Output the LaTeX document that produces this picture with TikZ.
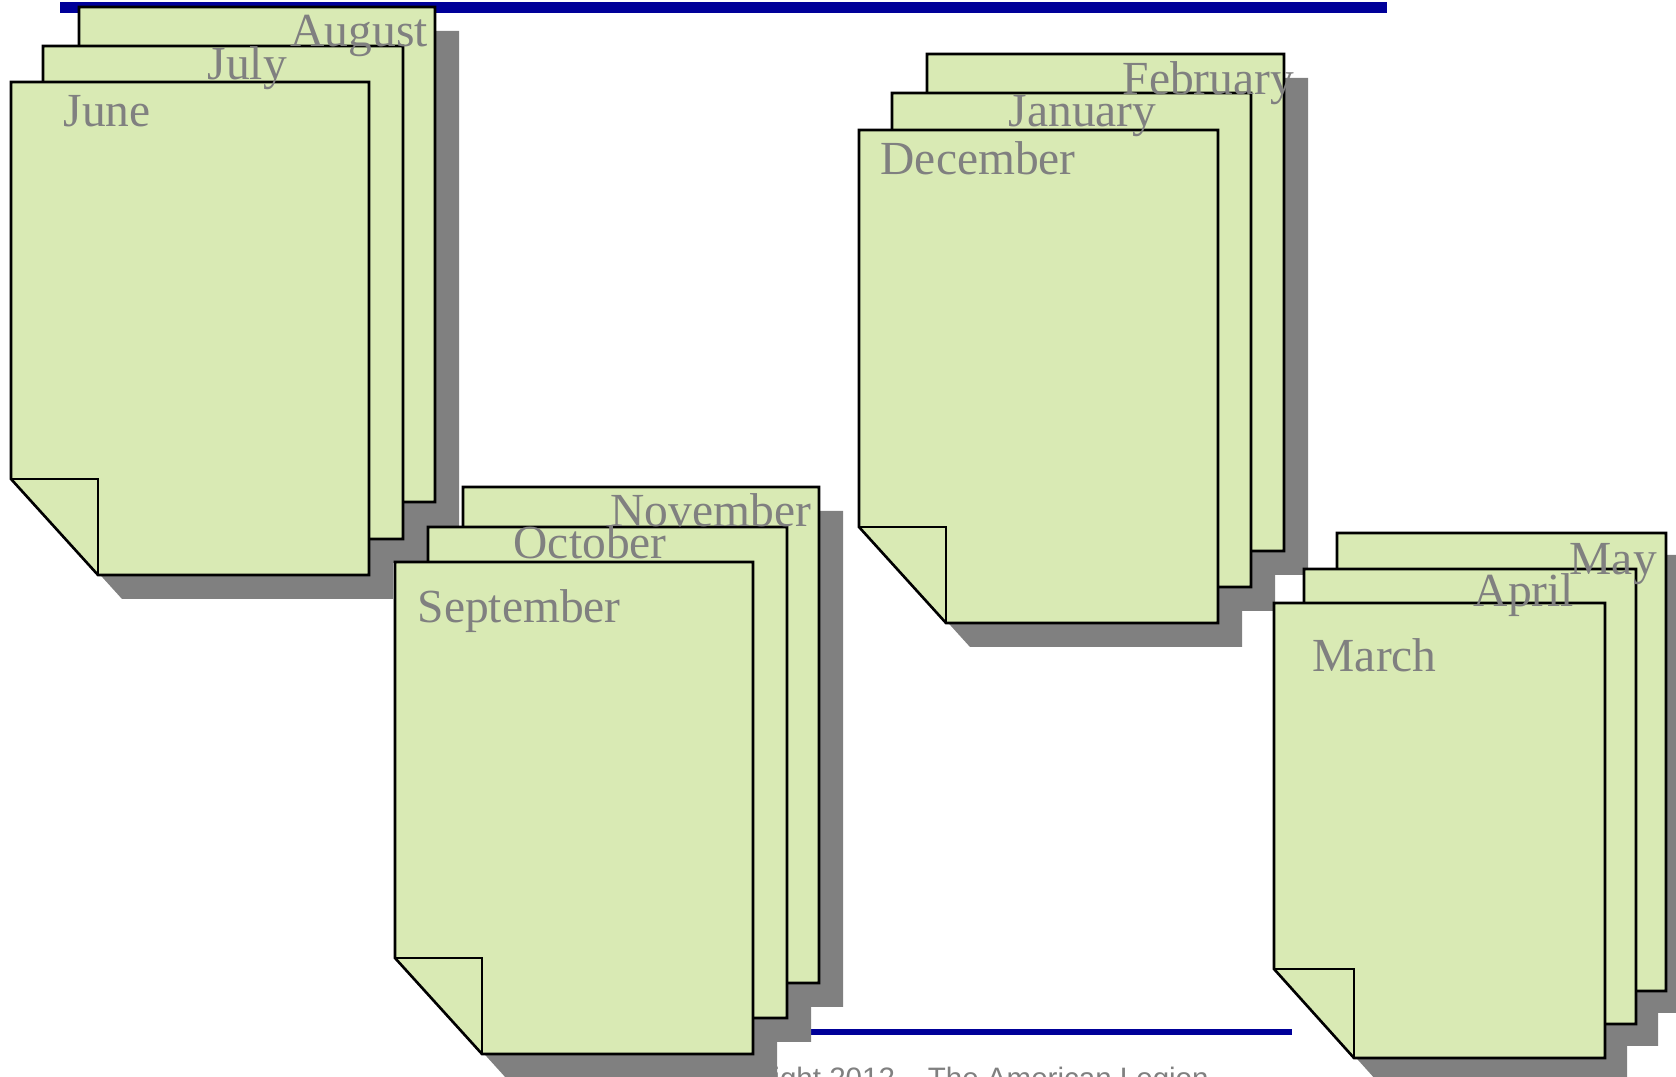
\documentclass[tikz,border=0pt]{standalone}
\usepackage{fontspec}
\setmainfont{Liberation Serif}
\newfontfamily\arialfont{Liberation Sans}
\definecolor{pagefill}{HTML}{D9EAB4}
\definecolor{shadowgray}{HTML}{808080}
\definecolor{labelgray}{HTML}{808080}
\definecolor{ruleblue}{HTML}{000099}
% outline of a sheet with its lower left corner folded in
\newcommand\sheetpath[6]{(#1,#2) -- (#3,#2) -- (#3,#4) -- ({#1+#5},#4) -- (#1,{#4-#6}) -- cycle}
\newcommand\foldpath[6]{(#1,{#4-#6}) -- ({#1+#5},{#4-#6}) -- ({#1+#5},#4)}
\begin{document}
\begin{tikzpicture}[x=0.01cm,y=-0.01cm,
  sheet/.style={fill=pagefill,draw=black,line width=0.75pt,line join=miter},
  foldline/.style={draw=black,line width=0.75pt},
  shade/.style={fill=shadowgray},
  month/.style={inner sep=0pt,anchor=base west,text=labelgray,font=\fontsize{13.5}{16}\selectfont},
  rulebar/.style={fill=ruleblue}]
\useasboundingbox (0,0) rectangle (1676,1077);
\clip (0,0) rectangle (1676,1077);
% rules and footer
\fill[rulebar] (60,2) rectangle (1387,13);
\fill[rulebar] (760,1029) rectangle (1292,1035);
\node[inner sep=0pt,anchor=base west,text=labelgray,font=\arialfont\fontsize{8.4}{10}\selectfont] (copy) at (694,1088) {Copyright 2012 – The American Legion};
% shadows
\begin{scope}[shift={(24,24)}]
  \fill[shade] \sheetpath{79}{7}{435}{502}{87}{96};
  \fill[shade] \sheetpath{43}{46}{403}{539}{87}{96};
  \fill[shade] \sheetpath{11}{82}{369}{575}{87}{96};
  \fill[shade] \sheetpath{463}{487}{819}{983}{87}{96};
  \fill[shade] \sheetpath{428}{527}{787}{1018}{87}{96};
  \fill[shade] \sheetpath{395}{562}{753}{1054}{87}{96};
  \fill[shade] \sheetpath{927}{54}{1284}{551}{87}{96};
  \fill[shade] \sheetpath{892}{93}{1251}{587}{87}{96};
  \fill[shade] \sheetpath{859}{130}{1218}{623}{87}{96};
\end{scope}
\begin{scope}[shift={(22,22)}]
  \fill[shade] \sheetpath{1337}{533}{1666}{991}{80}{89};
  \fill[shade] \sheetpath{1304}{569}{1636}{1024}{80}{89};
  \fill[shade] \sheetpath{1274}{603}{1605}{1058}{80}{89};
\end{scope}
% stack 1
\draw[sheet] \sheetpath{79}{7}{435}{502}{87}{96};
\draw[foldline] \foldpath{79}{7}{435}{502}{87}{96};
\draw[sheet] \sheetpath{43}{46}{403}{539}{87}{96};
\draw[foldline] \foldpath{43}{46}{403}{539}{87}{96};
\draw[sheet] \sheetpath{11}{82}{369}{575}{87}{96};
\draw[foldline] \foldpath{11}{82}{369}{575}{87}{96};
% stack 2
\draw[sheet] \sheetpath{463}{487}{819}{983}{87}{96};
\draw[foldline] \foldpath{463}{487}{819}{983}{87}{96};
\draw[sheet] \sheetpath{428}{527}{787}{1018}{87}{96};
\draw[foldline] \foldpath{428}{527}{787}{1018}{87}{96};
\draw[sheet] \sheetpath{395}{562}{753}{1054}{87}{96};
\draw[foldline] \foldpath{395}{562}{753}{1054}{87}{96};
% stack 3
\draw[sheet] \sheetpath{927}{54}{1284}{551}{87}{96};
\draw[foldline] \foldpath{927}{54}{1284}{551}{87}{96};
\draw[sheet] \sheetpath{892}{93}{1251}{587}{87}{96};
\draw[foldline] \foldpath{892}{93}{1251}{587}{87}{96};
\draw[sheet] \sheetpath{859}{130}{1218}{623}{87}{96};
\draw[foldline] \foldpath{859}{130}{1218}{623}{87}{96};
% stack 4
\draw[sheet] \sheetpath{1337}{533}{1666}{991}{80}{89};
\draw[foldline] \foldpath{1337}{533}{1666}{991}{80}{89};
\draw[sheet] \sheetpath{1304}{569}{1636}{1024}{80}{89};
\draw[foldline] \foldpath{1304}{569}{1636}{1024}{80}{89};
\draw[sheet] \sheetpath{1274}{603}{1605}{1058}{80}{89};
\draw[foldline] \foldpath{1274}{603}{1605}{1058}{80}{89};
% labels
\node[month] (aug) at (290,47) {August};
\node[month] (jul) at (207,80) {July};
\node[month] (jun) at (63,127) {June};
\node[month] (nov) at (610,527) {November};
\node[month] (oct) at (513,559) {October};
\node[month] (sep) at (417,623) {September};
\node[month] (feb) at (1122,95) {February};
\node[month] (jan) at (1008,127) {January};
\node[month] (dec) at (880,175) {December};
\node[month] (may) at (1569,575) {May};
\node[month] (apr) at (1473,607) {April};
\node[month] (mar) at (1312,672) {March};
\end{tikzpicture}
\end{document}
